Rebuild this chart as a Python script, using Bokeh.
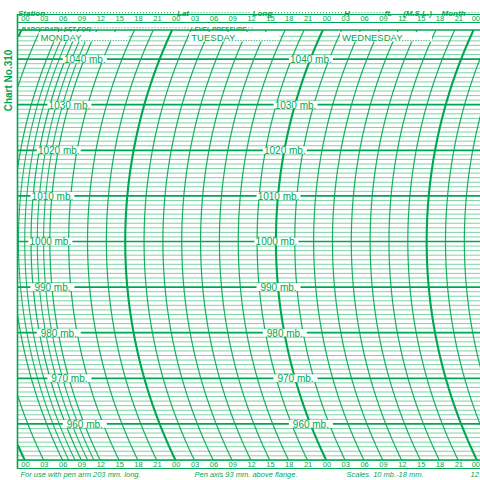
import numpy as np
from bokeh.plotting import figure
from bokeh.models import Range1d
from bokeh.core.properties import value
from bokeh.embed import file_html
from bokeh.resources import INLINE

# ---------------- data ----------------
days = ["MONDAY", "TUESDAY", "WEDNESDAY"]
day_dots = [18, 17, 11]
hour_tick_labels = ["00", "03", "06", "09", "12", "15", "18", "21"]
tick_hours = list(range(0, 73, 3))
arc_hours = list(range(0, 88, 3))
bundle_hours = [7, 8, 10, 11]
pressure_lines = list(range(952, 1046))
labelled_pressures = [1040, 1030, 1020, 1010, 1000, 990, 980, 970, 960]
label_arc_hours = [12, 48]
header_fields = ["Station", "Lat", "Long", "H", "ft.", "(M.S.L.)", "Month"]
sub_header_fields = ["BAROGRAPH SET FOR", "LEVEL PRESSURE"]
footer_fields = ["For use with pen arm 203 mm. long.",
                 "Pen axis 93 mm. above flange.",
                 "Scales. 10 mb.-18 mm.", "12"]
chart_title = "Chart No.310"

# ---------------- geometry (reference pixel frame) ----------------
GREEN = "#00a651"
FONT = value("Liberation Sans")
PX0, PXH = 25.0, 6.28      # px of hour 0, px per hour
PY0, PYM = 241.0, 4.56     # px of 1000 mb, px per mb
R = 500.0                  # pen arm radius in px
GRID_TOP, GRID_BOT, GRID_LEFT = 29.5, 459.5, 17.0
SIZE = 480


def hx(px):
    return (np.asarray(px, dtype=float) - PX0) / PXH


def pv(py):
    return 1000.0 - (np.asarray(py, dtype=float) - PY0) / PYM


def h2px(h):
    return PX0 + PXH * np.asarray(h, dtype=float)


def p2py(p):
    return PY0 - (np.asarray(p, dtype=float) - 1000.0) * PYM


def arc_px(h, py):
    return h2px(h) - 51.0 + R - np.sqrt(R ** 2 - (py - PY0) ** 2)


def arc_segments(hours):
    xs, ys = [], []
    py = np.linspace(GRID_TOP, GRID_BOT, 200)
    for h in hours:
        px = arc_px(h, py)
        keep = px >= GRID_LEFT
        run_x, run_y = [], []
        for k in range(len(py)):
            if keep[k]:
                run_x.append(float(hx(px[k])))
                run_y.append(float(pv(py[k])))
            else:
                if len(run_x) > 1:
                    xs.append(run_x); ys.append(run_y)
                run_x, run_y = [], []
        if len(run_x) > 1:
            xs.append(run_x); ys.append(run_y)
    return xs, ys


p = figure(width=SIZE, height=SIZE, output_backend="svg", toolbar_location=None,
           x_range=Range1d(float(hx(0)), float(hx(SIZE))),
           y_range=Range1d(float(pv(SIZE)), float(pv(0))),
           x_axis_location=None, y_axis_location=None, min_border=0)
p.grid.visible = False
p.outline_line_color = None
p.background_fill_color = "white"
p.border_fill_color = "white"

xl, xr = float(hx(GRID_LEFT)), float(hx(490))

# horizontal pressure lines
thin = [v for v in pressure_lines if v % 10 != 0]
thick = [v for v in pressure_lines if v % 10 == 0]
p.segment(x0=[xl] * len(thin), x1=[xr] * len(thin), y0=thin, y1=thin,
          line_color=GREEN, line_alpha=0.5, line_width=1.0)
p.segment(x0=[xl] * len(thick), x1=[xr] * len(thick), y0=thick, y1=thick,
          line_color=GREEN, line_alpha=1.0, line_width=1.7)

# time arcs
normal_h = [h for h in arc_hours if h % 24 != 0]
day_h = [h for h in arc_hours if h % 24 == 0]
xs, ys = arc_segments(normal_h)
p.multi_line(xs, ys, line_color=GREEN, line_width=1.2, line_alpha=0.9)
xs, ys = arc_segments(bundle_hours)
p.multi_line(xs, ys, line_color=GREEN, line_width=1.1, line_alpha=0.85)
xs, ys = arc_segments(day_h)
p.multi_line(xs, ys, line_color=GREEN, line_width=2.1)

# frame lines (header / footer rules, left border)
rule_py = [14.0, 22.0, 29.5, 459.5, 468.0]
rule_w = [1.0, 1.0, 1.6, 1.6, 1.0]
for ry, rw in zip(rule_py, rule_w):
    p.segment(x0=[xl], x1=[xr], y0=[float(pv(ry))], y1=[float(pv(ry))],
              line_color=GREEN, line_width=rw)
p.segment(x0=[xl], x1=[xl], y0=[float(pv(13.5))], y1=[float(pv(468.5))],
          line_color=GREEN, line_width=1.6)

# pressure labels on arcs with white boxes
lab_x, lab_y, lab_t = [], [], []
for h in label_arc_hours:
    for pr in labelled_pressures:
        cx = arc_px(h, p2py(pr))
        lab_x.append(float(cx)); lab_y.append(float(p2py(pr)))
        lab_t.append(f"{pr} mb.")
lab_x = np.array(lab_x); lab_y = np.array(lab_y)
p.quad(left=hx(lab_x - 21.5), right=hx(lab_x + 22.5),
       top=pv(lab_y - 3.8), bottom=pv(lab_y + 3.8),
       fill_color="white", line_color=None)
p.text(x=hx(lab_x + 0.5), y=pv(lab_y + 0.3), text=lab_t, text_font=FONT,
       text_font_size="10px", text_color=GREEN, text_align="center",
       text_baseline="middle")

# day labels
day_px = h2px([24 * i + 2.4 for i in range(len(days))])
day_txt = [d + "." * n for d, n in zip(days, day_dots)]
day_end = day_px + np.array([88.0, 88.0, 90.0])
p.quad(left=hx(day_px - 2), right=hx(day_end), top=pv(31.4), bottom=pv(41.0),
       fill_color="white", line_color=None)
p.text(x=hx(day_px), y=[float(pv(36.6))] * len(days), text=day_txt, text_font=FONT,
       text_font_size="9.5px", text_color=GREEN, text_align="left",
       text_baseline="middle")

# tick labels top and bottom (last one kept inside the edge)
tick_txt = [hour_tick_labels[(h // 3) % 8] for h in tick_hours]
tpx = h2px(tick_hours)
inner = tpx < 470
for ty in (18.4, 463.6):
    p.text(x=hx(tpx[inner]), y=[float(pv(ty))] * int(inner.sum()),
           text=[t for t, k in zip(tick_txt, inner) if k],
           text_font=FONT, text_font_size="7.5px", text_color=GREEN,
           text_align="center", text_baseline="middle")
    p.text(x=hx([479.5] * int((~inner).sum())), y=[float(pv(ty))] * int((~inner).sum()),
           text=[t for t, k in zip(tick_txt, inner) if not k],
           text_font=FONT, text_font_size="7.5px", text_color=GREEN,
           text_align="right", text_baseline="middle")

# header row 1 with dotted leaders
hdr_px = [17.5, 176.5, 252.0, 343.5, 384.0, 402.5, 441.0]
hdr_end = [40.5, 188.0, 268.5, 349.0, 393.0, 430.5, 462.0]
p.text(x=hx(hdr_px), y=[float(pv(12.6))] * len(hdr_px), text=header_fields,
       text_font=FONT, text_font_size="8px", text_font_style="bold italic",
       text_color=GREEN, text_align="left", text_baseline="alphabetic")
lead0 = [hdr_end[0], hdr_end[1], hdr_end[2], hdr_end[3], hdr_end[6]]
lead1 = [hdr_px[1] - 1, hdr_px[2] - 1, hdr_px[3] - 1, hdr_px[4] - 1, 482.0]
p.segment(x0=hx(lead0), x1=hx(lead1), y0=[float(pv(12.2))] * 5,
          y1=[float(pv(12.2))] * 5, line_color=GREEN, line_width=1.0,
          line_dash="1 2")

# header row 3
sub_px = [21.0, 190.0]
p.text(x=hx(sub_px), y=[float(pv(27.6))] * 2, text=sub_header_fields,
       text_font=FONT, text_font_size="6.2px", text_font_style="bold italic",
       text_color=GREEN, text_align="left", text_baseline="alphabetic")
p.segment(x0=hx([91.0, 245.0]), x1=hx([188.0, 252.0]), y0=[float(pv(27.2))] * 2,
          y1=[float(pv(27.2))] * 2, line_color=GREEN, line_width=0.9,
          line_dash="1 2")

# footer
foot_px = [20.0, 194.0, 346.0, 470.0]
p.text(x=hx(foot_px), y=[float(pv(474.0))] * len(foot_px), text=footer_fields,
       text_font=FONT, text_font_size="7.5px", text_font_style="italic",
       text_color=GREEN, text_align="left", text_baseline="alphabetic")

# rotated chart title
p.text(x=[float(hx(7.5))], y=[float(pv(80.0))], text=[chart_title], angle=np.pi / 2,
       text_font=FONT, text_font_size="10px", text_font_style="bold",
       text_color=GREEN, text_align="center", text_baseline="middle")

open("out.html", "w").write(file_html(p, INLINE))
